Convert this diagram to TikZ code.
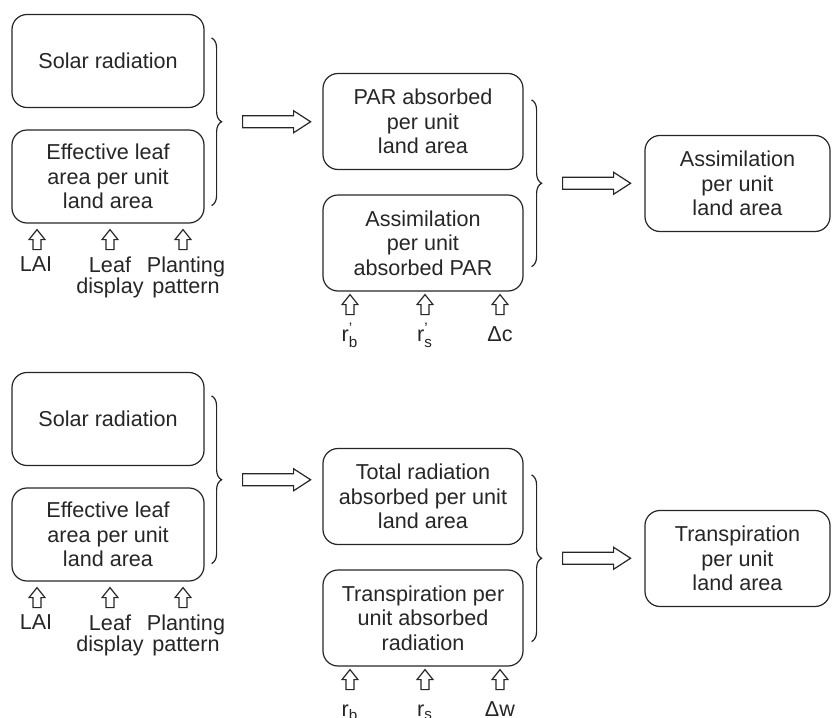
\documentclass[tikz,border=0pt]{standalone}
\usepackage{fontspec}
\setmainfont{Liberation Sans}
\usetikzlibrary{calc, decorations.pathreplacing}

\newcommand{\subtxt}[1]{\mbox{\fontsize{7.6}{8}\selectfont #1}}

\begin{document}
\begin{tikzpicture}[
            x=0.5pt, y=-0.5pt,
            color=black!85,
            box/.style={draw, line width=0.6pt, rounded corners=7.5pt, minimum width=96pt, minimum height=46.5pt, align=center, font=\fontsize{10.8}{12.2}\selectfont},
            midbox/.style={box, minimum width=100pt, minimum height=48pt},
            endbox/.style={box, minimum width=92.5pt, minimum height=48pt},
            lbl/.style={align=center, inner sep=0pt, font=\fontsize{10.8}{10.6}\selectfont},
            curly/.style={draw, line width=0.6pt, decorate, decoration={brace, amplitude=5pt}},
            hollow/.style={draw, line width=0.6pt, fill=white, line join=miter},
            uparrow/.pic={\draw[hollow] (-4,0) -- (-4,-10) -- (-8,-10) -- (0,-20) -- (8,-10) -- (4,-10) -- (4,0) -- cycle;},
            rightarrow/.pic={\draw[hollow] (0,-6) -- (51,-6) -- (51,-11) -- (68,0) -- (51,11) -- (51,6) -- (0,6) -- cycle;}
        ]
            \useasboundingbox (0,0) rectangle (832,718);

            % assimilation chain
            \node[box] (solar1) at (108,61) {Solar radiation};
            \node[box] (leaf1) at (108,176.5) {Effective leaf\\area per unit\\land area};
            \node[midbox] (par) at (423,121.5) {PAR absorbed\\per unit\\land area};
            \node[midbox] (assimpar) at (423,243) {Assimilation\\per unit\\absorbed PAR};
            \node[endbox] (assim) at (737.5,183.5) {Assimilation\\per unit\\land area};

            \draw[curly] ($(solar1.north east)+(7,24)$) -- ($(leaf1.south east)+(7,-18)$) coordinate[midway, xshift=5pt] (tip1);
            \draw[curly] ($(par.north east)+(8,27)$) -- ($(assimpar.south east)+(8,-25)$) coordinate[midway, xshift=5pt] (tip2);
            \pic at ($(tip1)+(21,0)$) {rightarrow};
            \pic at ($(tip2)+(21,0)$) {rightarrow};

            \foreach \dx/\ax/\nm/\txt in {-72/-71/lai1/LAI, 2/2/disp1/{Leaf\\display}, 78/75/patt1/{Planting\\pattern}} {
                \node[lbl, anchor=north] (\nm) at ($(leaf1.south)+(\dx,33)$) {\txt};
                \pic at ($(leaf1.south)+(\ax,26)$) {uparrow};
            }
            \foreach \dx/\nm/\txt in {-73/rb1/{r$^{\subtxt{'}}_{\subtxt{b}}$}, 2/rs1/{r$^{\subtxt{'}}_{\subtxt{s}}$}, 77/dc/{Δc}} {
                \node[lbl, anchor=base] (\nm) at ($(assimpar.south)+(\dx,50)$) {\txt};
                \pic at ($(assimpar.south)+(\dx,23)$) {uparrow};
            }

            % transpiration chain
            \node[box] (solar2) at (108,419) {Solar radiation};
            \node[box] (leaf2) at (108,534.5) {Effective leaf\\area per unit\\land area};
            \node[midbox] (totrad) at (423,496.5) {Total radiation\\absorbed per unit\\land area};
            \node[midbox] (transpar) at (423,618) {Transpiration per\\unit absorbed\\radiation};
            \node[endbox] (transp) at (737.5,558.5) {Transpiration\\per unit\\land area};

            \draw[curly] ($(solar2.north east)+(7,24)$) -- ($(leaf2.south east)+(7,-18)$) coordinate[midway, xshift=5pt] (tip3);
            \draw[curly] ($(totrad.north east)+(8,27)$) -- ($(transpar.south east)+(8,-25)$) coordinate[midway, xshift=5pt] (tip4);
            \pic at ($(tip3)+(21,0)$) {rightarrow};
            \pic at ($(tip4)+(21,0)$) {rightarrow};

            \foreach \dx/\ax/\nm/\txt in {-72/-71/lai2/LAI, 2/2/disp2/{Leaf\\display}, 78/75/patt2/{Planting\\pattern}} {
                \node[lbl, anchor=north] (\nm) at ($(leaf2.south)+(\dx,33)$) {\txt};
                \pic at ($(leaf2.south)+(\ax,26)$) {uparrow};
            }
            \foreach \dx/\nm/\txt in {-73/rb2/{r$_{\subtxt{b}}$}, 2/rs2/{r$_{\subtxt{s}}$}, 77/dw/{Δw}} {
                \node[lbl, anchor=base] (\nm) at ($(transpar.south)+(\dx,50)$) {\txt};
                \pic at ($(transpar.south)+(\dx,23)$) {uparrow};
            }
        \end{tikzpicture}
\end{document}
